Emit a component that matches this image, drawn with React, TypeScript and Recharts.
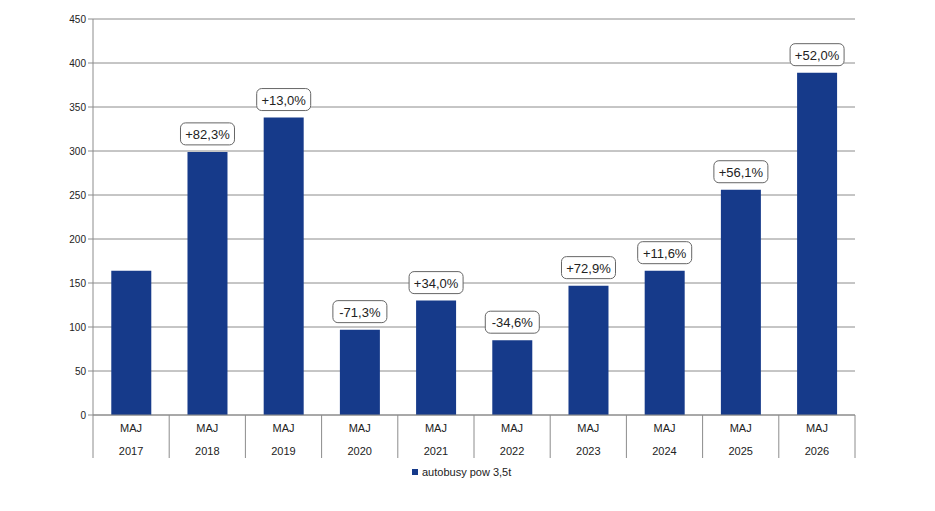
import { Bar, BarChart, CartesianGrid, LabelList, XAxis, YAxis } from "recharts";

const MONTHS = ["MAJ", "MAJ", "MAJ", "MAJ", "MAJ", "MAJ", "MAJ", "MAJ", "MAJ", "MAJ"];
const YEARS = ["2017", "2018", "2019", "2020", "2021", "2022", "2023", "2024", "2025", "2026"];
const BUSES = [164, 299, 338, 97, 130, 85, 147, 164, 256, 389];
const CHANGES = ["", "+82,3%", "+13,0%", "-71,3%", "+34,0%", "-34,6%", "+72,9%", "+11,6%", "+56,1%", "+52,0%"];
const Y_TICKS = [0, 50, 100, 150, 200, 250, 300, 350, 400, 450];
const SERIES_NAME = "autobusy pow 3,5t";

const BAR = "#163A8A";
const GRID = "#8c8c8c";
const FONT = "'Liberation Sans', Arial, sans-serif";

const W = 935;
const H = 511;
const M = { top: 19, right: 80, left: 53, bottom: 53 };
const Y_W = 40;
const BAND = (W - M.left - M.right - Y_W) / YEARS.length;

const data = YEARS.map((y, i) => ({ key: `${MONTHS[i]} ${y}`, month: MONTHS[i], year: y, value: BUSES[i], change: CHANGES[i] }));

// tick y sits a few px below the axis line, so lines start above it
function CategoryTick({ x, y, payload, index }: any) {
  const d = data[payload.index ?? index];
  const left = x - BAND / 2;
  const top = y - 8;
  return (
    <g>
      <line x1={left} y1={top} x2={left} y2={top + 43} stroke={GRID} />
      {index === data.length - 1 && <line x1={x + BAND / 2} y1={top} x2={x + BAND / 2} y2={top + 43} stroke={GRID} />}
      <text x={x} y={top + 17} textAnchor="middle" fontSize={11} fill="#222" fontFamily={FONT}>{d.month}</text>
      <text x={x} y={top + 40} textAnchor="middle" fontSize={11} fill="#222" fontFamily={FONT}>{d.year}</text>
    </g>
  );
}

function ChangeLabel({ x, y, width, value }: any) {
  if (!value) return null;
  const cx = x + width / 2;
  const w = 54;
  const h = 22;
  return (
    <g>
      <rect x={cx - w / 2} y={y - 7 - h} width={w} height={h} rx={5} fill="#fff" stroke="#666" />
      <text x={cx} y={y - 7 - h / 2 + 5} textAnchor="middle" fontSize={13} fill="#222" fontFamily={FONT}>{value}</text>
    </g>
  );
}

export default function App() {
  return (
    <div style={{ position: "absolute", left: 0, top: 0, width: W, height: H, background: "#fff" }}>
      <BarChart width={W} height={H} data={data} margin={M} barCategoryGap="24%">
        <CartesianGrid vertical={false} stroke={GRID} />
        <XAxis
          dataKey="key"
          interval={0}
          height={43}
          axisLine={{ stroke: GRID }}
          tickLine={false}
          tick={<CategoryTick />}
        />
        <YAxis
          width={Y_W}
          domain={[0, 450]}
          ticks={Y_TICKS}
          axisLine={{ stroke: GRID }}
          tickLine={{ stroke: GRID }}
          tickSize={5}
          tick={{ fontSize: 10, fill: "#222", fontFamily: FONT }}
        />
        <Bar dataKey="value" fill={BAR} isAnimationActive={false}>
          <LabelList dataKey="change" content={<ChangeLabel />} />
        </Bar>
      </BarChart>
      <div
        style={{
          position: "absolute",
          left: 412,
          top: 466,
          display: "flex",
          alignItems: "center",
          fontFamily: FONT,
          fontSize: 11,
          color: "#222",
        }}
      >
        <span style={{ width: 6, height: 6, background: BAR, marginRight: 4, display: "inline-block" }} />
        {SERIES_NAME}
      </div>
    </div>
  );
}
